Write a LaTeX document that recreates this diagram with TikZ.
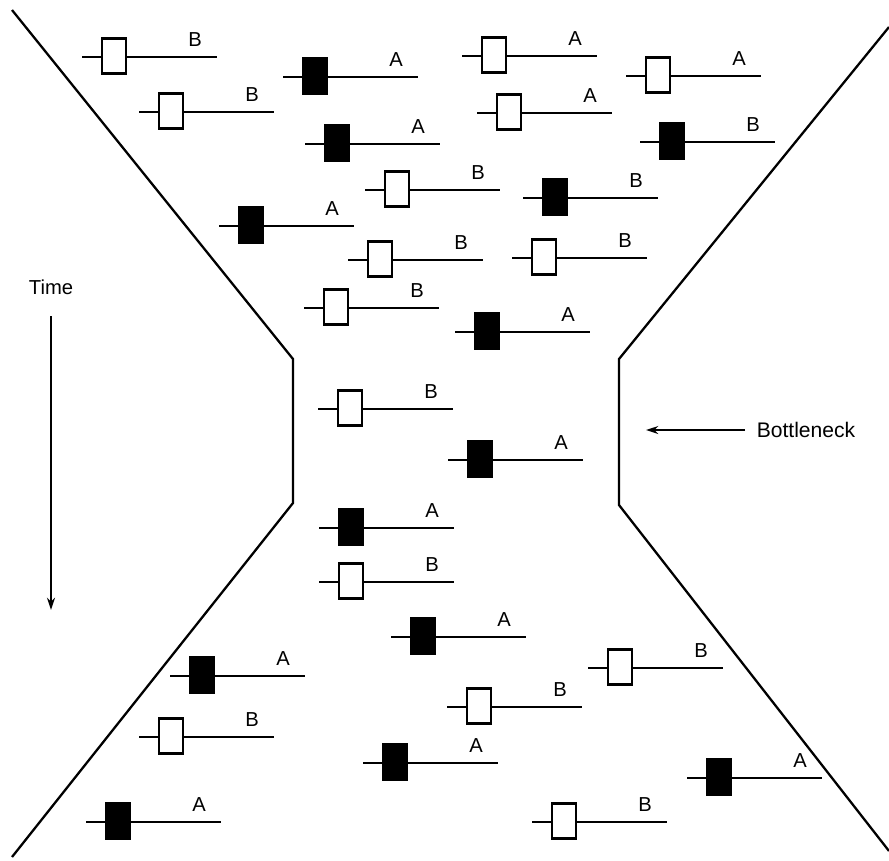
\documentclass[tikz,border=0pt]{standalone}
\usepackage{fontspec}
\setmainfont{Liberation Sans}
\usetikzlibrary{arrows.meta}

\begin{document}
\begin{tikzpicture}[
    x=0.02cm, y=-0.02cm,
    wall/.style={line width=1.3pt, line join=miter},
    rod/.style={line width=1.3pt},
    molbox/.style={draw, line width=1.3pt, minimum width=0.47cm, minimum height=0.70cm, inner sep=0pt},
    tag/.style={font=\fontsize{11.5}{13}\selectfont, inner sep=0pt},
    pointer/.style={-{Stealth[length=7pt, width=4.5pt]}, line width=1.3pt}
]
\useasboundingbox (0,0) rectangle (889,860);

% funnel walls with the narrow neck
\draw[wall] (12,10) -- (293,359) -- (293,503) -- (12,857);
\draw[wall] (889,27) -- (619,359) -- (619,505) -- (889,851);

% rods: start x / y / box colour / label
\foreach \i/\x/\y/\fc/\lab in {
    1/82/57/white/B,    2/283/77/black/A,   3/139/112/white/B,  4/305/144/black/A,
    5/365/190/white/B,  6/219/226/black/A,  7/348/260/white/B,  8/304/308/white/B,
    9/462/56/white/A,   10/626/76/white/A,  11/477/113/white/A, 12/640/142/black/B,
    13/523/198/black/B, 14/512/258/white/B, 15/455/332/black/A, 16/318/409/white/B,
    17/448/460/black/A, 18/319/528/black/A, 19/319/582/white/B, 20/391/637/black/A,
    21/588/668/white/B, 22/170/676/black/A, 23/447/707/white/B, 24/139/737/white/B,
    25/363/763/black/A, 26/687/778/black/A, 27/532/822/white/B, 28/86/822/black/A}
{
    \coordinate (tail\i) at (\x,\y);
    \coordinate (head\i) at (\x+135,\y);
    \draw[rod] (tail\i) -- (head\i);
    \node[molbox, fill=\fc] (box\i) at (\x+32,\y-1) {};
    \node[tag] (lab\i) at (\x+113,\y-17) {\lab};
}

% time axis
\node[tag] (time) at (51,287) {Time};
\coordinate (tbot) at (51,610);
\draw[pointer] ([yshift=-5.8mm]time.center) -- (tbot);

% neck marker
\node[tag, font=\fontsize{12}{14}\selectfont, anchor=west, inner xsep=6.5pt] (neck) at (745,430) {Bottleneck};
\coordinate (neckwall) at (646,430);
\draw[pointer] (neck) -- (neckwall);
\end{tikzpicture}
\end{document}
